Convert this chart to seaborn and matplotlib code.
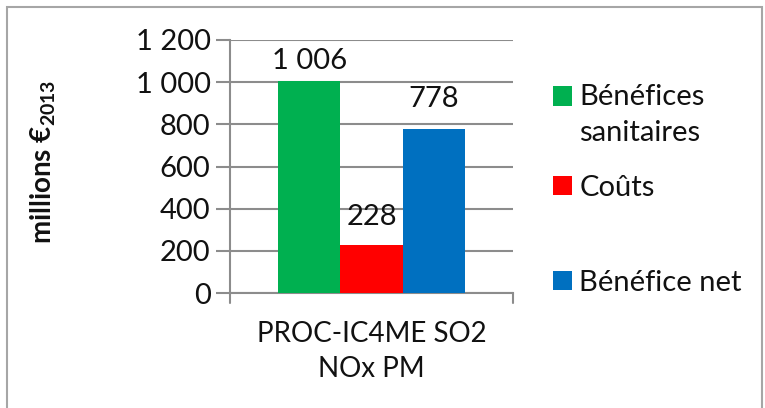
import matplotlib
matplotlib.use("Agg")
import matplotlib.pyplot as plt
from matplotlib.patches import Rectangle, Patch
from matplotlib.legend_handler import HandlerPatch
import seaborn as sns
import pandas as pd

# Data
categories = ["PROC-IC4ME SO2\nNOx PM"]
series = ["Bénéfices\nsanitaires", "Coûts", "Bénéfice net"]
values = [1006, 228, 778]
colors = ["#00B050", "#FF0000", "#0070C0"]
yticks = [0, 200, 400, 600, 800, 1000, 1200]
ytick_labels = ["0", "200", "400", "600", "800", "1 000", "1 200"]

df = pd.DataFrame({
    "cat": categories * len(series),
    "serie": series,
    "val": values,
})

sns.set_theme(style="white")
plt.rcParams["font.family"] = ["Lato", "DejaVu Sans"]
plt.rcParams["mathtext.fontset"] = "custom"
plt.rcParams["mathtext.bf"] = "Lato:bold"
plt.rcParams["mathtext.rm"] = "Lato:bold"
plt.rcParams["mathtext.default"] = "bf"

W, H = 765, 408
TXT = "#111111"
fig = plt.figure(figsize=(W / 100, H / 100), dpi=100)
ax = fig.add_axes([230 / W, 1 - 293 / H, (513 - 230) / W, (293 - 40) / H])

grid_c = "#8C8C8C"
sns.barplot(data=df, x="cat", y="val", hue="serie", palette=colors,
            saturation=1, width=0.66, ax=ax, legend=False, zorder=3,
            linewidth=0, edgecolor="none")

ax.set_ylim(0, 1200)
ax.set_xlim(-0.5, 0.5)
ax.set_yticks(yticks)
ax.set_yticklabels(ytick_labels, fontsize=21, color=TXT)
ax.yaxis.grid(True, color=grid_c, linewidth=1.5, zorder=0)
ax.set_axisbelow(True)
ax.tick_params(axis="y", length=10, width=1.5, color=grid_c, pad=4, left=True)
ax.set_xticks([0])
ax.set_xticklabels(categories, fontsize=20, color=TXT, linespacing=1.45)
ax.tick_params(axis="x", length=0, pad=20)
ax.set_xlabel("")
ax.set_ylabel("millions €$_{2013}$", fontsize=20, fontweight="bold", color=TXT)
ax.yaxis.set_label_coords((58 - 230) / 283, (293 - 162) / 253)

for side in ["top", "right"]:
    ax.spines[side].set_visible(False)
for side in ["left", "bottom"]:
    ax.spines[side].set_color(grid_c)
    ax.spines[side].set_linewidth(1.5)

# Category boundary ticks below the x axis
for xb in (-0.5, 0.5):
    ax.plot([xb, xb], [0, -0.04], transform=ax.get_xaxis_transform(),
            color=grid_c, lw=1.5, clip_on=False)

# Value labels above each bar
pads = [5, 11, 12]
for cont, pad in zip(ax.containers, pads):
    ax.bar_label(cont, labels=[f"{v:,.0f}".replace(",", " ") for v in cont.datavalues],
                 padding=pad, fontsize=21, color=TXT)


class ShiftedSquare(HandlerPatch):
    def __init__(self, dy=0.0):
        super().__init__()
        self.dy = dy

    def create_artists(self, legend, orig_handle, xdescent, ydescent, width,
                       height, fontsize, trans):
        p = Rectangle((-xdescent, -ydescent + self.dy), width, height,
                      facecolor=orig_handle.get_facecolor(), edgecolor="none",
                      transform=trans)
        return [p]


legend_y = [115, 188, 283]
shifts = [14, 0, 0]
for lab, col, y, dy in zip(series, colors, legend_y, shifts):
    h = Patch(facecolor=col, label=lab)
    leg = fig.legend(handles=[h], loc="center left",
                     bbox_to_anchor=(553 / W, 1 - y / H), frameon=False,
                     fontsize=21, handlelength=0.65, handleheight=0.65,
                     handletextpad=0.25, borderpad=0, borderaxespad=0,
                     handler_map={Patch: ShiftedSquare(dy)})
    for t in leg.get_texts():
        t.set_color(TXT)
        t.set_linespacing(1.45)

# Chart frame
fig.patches.append(Rectangle((7 / W, -0.02), (762 - 7) / W, 1.02 - 7 / H,
                             transform=fig.transFigure, fill=False,
                             edgecolor="#A6A6A6", linewidth=1.5))

fig.savefig("out.png", dpi=100)
